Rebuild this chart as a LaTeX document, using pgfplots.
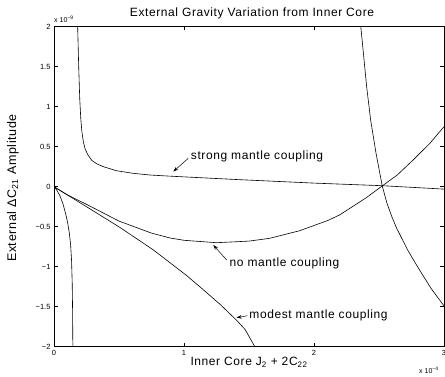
\documentclass[border=0pt]{standalone}
\usepackage{fontspec}
\setmainfont{Liberation Sans}
\newfontfamily\lblfont[LetterSpace=5]{Liberation Sans}
\usepackage{pgfplots}
\pgfplotsset{compat=1.18}
\usetikzlibrary{arrows.meta}

\begin{document}
\begin{tikzpicture}[x=1pt,y=1pt]
\useasboundingbox (0,0) rectangle (445,376);
\begin{axis}[
  at={(54pt,29.3pt)}, anchor=south west,
  scale only axis, width=390pt, height=320pt,
  xmin=0, xmax=3, ymin=-2, ymax=2,
  xtick={0,1,2,3}, xticklabels={0,1,2,3},
  ytick={-2,-1.5,-1,-0.5,0,0.5,1,1.5,2},
  yticklabels={−2,−1.5,−1,−0.5,0,0.5,1,1.5,2},
  tick align=inside,
  major tick length=3.5pt,
  tick style={black, line width=0.5pt},
  axis line style={black, line width=0.8pt},
  tick label style={font=\fontsize{7.5}{8}\selectfont, text=black},
]
% no mantle coupling
\addplot[black, line width=0.6pt] coordinates {
 (0,0) (0.1,-0.1) (0.25,-0.22) (0.5,-0.43) (0.75,-0.58) (0.89,-0.64)
 (1.0,-0.67) (1.25,-0.70) (1.5,-0.68) (1.66,-0.645) (1.89,-0.55)
 (2.11,-0.42) (2.2,-0.35) (2.4,-0.14) (2.525,0.01) (2.64,0.146)
 (2.76,0.33) (2.89,0.54) (3.0,0.75)
};
% modest mantle coupling, left branch
\addplot[black, line width=0.6pt] coordinates {
 (0,0) (0.1,-0.1) (0.25,-0.25) (0.508,-0.51) (0.764,-0.79) (1.02,-1.11)
 (1.15,-1.29) (1.277,-1.47) (1.405,-1.67) (1.47,-1.785) (1.545,-2.0)
};
% modest mantle coupling, right branch
\addplot[black, line width=0.6pt] coordinates {
 (2.36,2.0) (2.38,1.67) (2.405,1.25) (2.436,0.83) (2.477,0.42)
 (2.525,0.01) (2.56,-0.2) (2.60,-0.38) (2.636,-0.52) (2.72,-0.79)
 (2.80,-1.01) (2.9,-1.27) (3.0,-1.49)
};
% strong mantle coupling, left branch
\addplot[black, line width=0.6pt] coordinates {
 (0,0) (0.02,-0.04) (0.045,-0.11) (0.07,-0.22) (0.09,-0.34) (0.105,-0.45)
 (0.118,-0.58) (0.128,-0.73) (0.135,-0.92) (0.14,-1.2) (0.143,-1.55)
 (0.145,-2.0)
};
% strong mantle coupling, right branch
\addplot[black, line width=0.6pt] coordinates {
 (0.182,2.0) (0.19,1.5) (0.198,1.1) (0.206,0.85) (0.215,0.68)
 (0.226,0.56) (0.24,0.47) (0.26,0.40) (0.29,0.33) (0.33,0.285)
 (0.38,0.25) (0.48,0.20) (0.61,0.167) (0.74,0.146) (0.89,0.132)
 (1.4,0.09) (2.0,0.045) (2.525,0.0125) (3.0,-0.03)
};
% curve annotations
\draw[black, line width=0.5pt, -{Stealth[length=5pt,width=3.5pt]}] (1.033,0.355) -- (0.918,0.19);
\node[anchor=west, inner sep=0pt, font=\lblfont\fontsize{12}{13}\selectfont] at (1.052,0.384) {strong mantle coupling};
\draw[black, line width=0.5pt, -{Stealth[length=5pt,width=3.5pt]}] (1.328,-0.916) -- (1.225,-0.729);
\node[anchor=west, inner sep=0pt, font=\lblfont\fontsize{12}{13}\selectfont] at (1.35,-0.958) {no mantle coupling};
\draw[black, line width=0.5pt, -{Stealth[length=5pt,width=3.5pt]}] (1.487,-1.6125) -- (1.405,-1.6375);
\node[anchor=west, inner sep=0pt, font=\lblfont\fontsize{12}{13}\selectfont] at (1.502,-1.604) {modest mantle coupling};
\end{axis}
% title, axis labels and exponent markers
\node[font=\lblfont\fontsize{12}{13}\selectfont] at (252,362.5) {External Gravity Variation from Inner Core};
\node[rotate=90, font=\lblfont\fontsize{12.5}{13}\selectfont] at (13,188) {External ΔC\textsubscript{21} Amplitude};
\node[font=\lblfont\fontsize{12}{13}\selectfont] at (249,14) {Inner Core J\textsubscript{2} + 2C\textsubscript{22}};
\node[anchor=base west, inner sep=0pt, font=\fontsize{7}{8}\selectfont] at (54,353.3) {x 10\textsuperscript{−9}};
\node[anchor=base west, inner sep=0pt, font=\fontsize{7}{8}\selectfont] at (419,2.7) {x 10\textsuperscript{−4}};
\end{tikzpicture}
\end{document}
